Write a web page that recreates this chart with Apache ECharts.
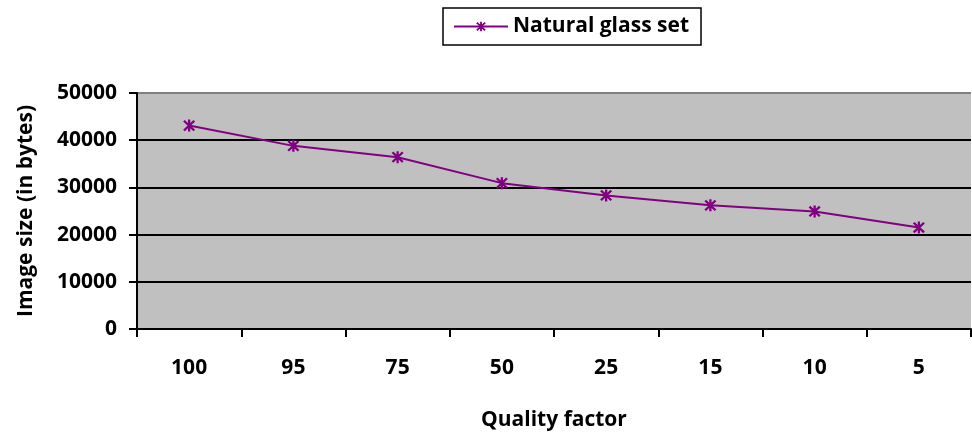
<!DOCTYPE html>
<html>
<head>
<meta charset="utf-8">
<script src="https://cdn.jsdelivr.net/npm/echarts@6/dist/echarts.min.js"></script>
<style>
  html, body { margin: 0; padding: 0; background: #fff; }
  #chart { width: 972px; height: 439px; }
</style>
</head>
<body>
<div id="chart"></div>
<script>
// Quality factor categories and the resulting image sizes
const qualityFactors = ['100', '95', '75', '50', '25', '15', '10', '5'];
const naturalGlassSizes = [43100, 38800, 36400, 30900, 28300, 26200, 24900, 21500];
const seriesName = 'Natural glass set';

const FONT = '"Open Sans", Lato, sans-serif';
const FS = 21;

// asterisk marker: vertical bar plus two diagonal bars
const asterisk = 'path://M4.1,0 L5.9,0 L5.9,10 L4.1,10 Z ' +
  'M0.3,1.6 L1.6,0.3 L9.7,8.4 L8.4,9.7 Z ' +
  'M8.4,0.3 L9.7,1.6 L1.6,9.7 L0.3,8.4 Z';

const boldText = { fontSize: FS, fontWeight: 'bold', color: '#000', fontFamily: FONT };

const chart = echarts.init(document.getElementById('chart'));
chart.setOption({
  backgroundColor: '#ffffff',
  animation: false,
  textStyle: { fontFamily: FONT },
  legend: {
    left: 443,
    top: 8,
    padding: [8, 12, 8, 10],
    borderColor: '#000',
    borderWidth: 1.5,
    itemWidth: 54,
    itemHeight: 12,
    itemGap: 8,
    textStyle: boldText,
    data: [seriesName]
  },
  grid: {
    left: 137,
    right: 1,
    top: 93,
    bottom: 110,
    show: true,
    backgroundColor: '#c0c0c0',
    borderWidth: 0
  },
  xAxis: {
    type: 'category',
    data: qualityFactors,
    boundaryGap: true,
    name: 'Quality factor',
    nameLocation: 'middle',
    nameGap: 81,
    nameTextStyle: boldText,
    axisLine: { lineStyle: { color: '#000', width: 2 } },
    axisTick: { show: true, length: 8, lineStyle: { color: '#000', width: 2 } },
    axisLabel: Object.assign({ margin: 29 }, boldText)
  },
  yAxis: {
    type: 'value',
    min: 0,
    max: 50000,
    interval: 10000,
    name: 'Image size (in bytes)',
    nameLocation: 'middle',
    nameGap: 100,
    nameTextStyle: boldText,
    axisLine: { show: true, lineStyle: { color: '#000', width: 2 } },
    axisTick: { show: true, length: 8, lineStyle: { color: '#000', width: 2 } },
    axisLabel: Object.assign({ margin: 20, formatter: v => String(v) }, boldText),
    splitLine: {
      show: true,
      lineStyle: { color: ['#000', '#000', '#000', '#000', '#000', '#808080'], width: 2 }
    }
  },
  series: [{
    name: seriesName,
    type: 'line',
    data: naturalGlassSizes,
    symbol: asterisk,
    symbolSize: 12,
    showAllSymbol: true,
    lineStyle: { color: '#800080', width: 2 },
    itemStyle: { color: '#800080' }
  }]
});
</script>
</body>
</html>
